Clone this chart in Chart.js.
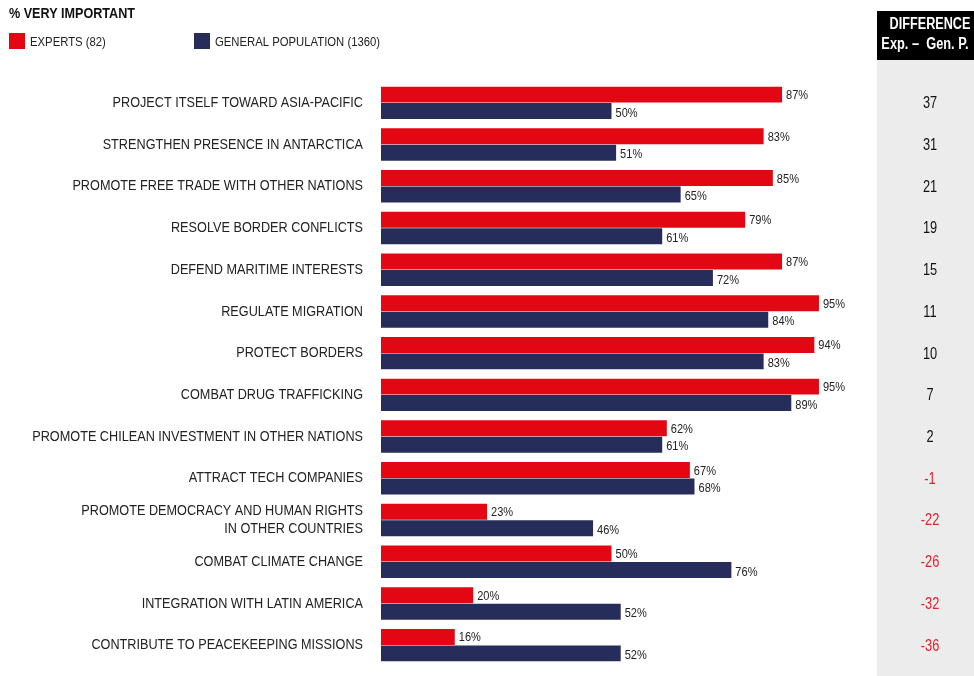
<!DOCTYPE html>
<html>
<head>
<meta charset="utf-8">
<script src="https://cdn.jsdelivr.net/npm/chart.js@4"></script>
<style>
  html, body { margin: 0; padding: 0; background: #fff; }
  #wrap { position: relative; width: 974px; height: 676px; }
</style>
</head>
<body>
<div id="wrap"><canvas id="chart" width="974" height="676"></canvas></div>
<script>
// categories + values
const categories = [
    "PROJECT ITSELF TOWARD ASIA-PACIFIC",
    "STRENGTHEN PRESENCE IN ANTARCTICA",
    "PROMOTE FREE TRADE WITH OTHER NATIONS",
    "RESOLVE BORDER CONFLICTS",
    "DEFEND MARITIME INTERESTS",
    "REGULATE MIGRATION",
    "PROTECT BORDERS",
    "COMBAT DRUG TRAFFICKING",
    "PROMOTE CHILEAN INVESTMENT IN OTHER NATIONS",
    "ATTRACT TECH COMPANIES",
    ["PROMOTE DEMOCRACY AND HUMAN RIGHTS", "IN OTHER COUNTRIES"],
    "COMBAT CLIMATE CHANGE",
    "INTEGRATION WITH LATIN AMERICA",
    "CONTRIBUTE TO PEACEKEEPING MISSIONS"
];
const experts = [87, 83, 85, 79, 87, 95, 94, 95, 62, 67, 23, 50, 20, 16];
const generalPop = [50, 51, 65, 61, 72, 84, 83, 89, 61, 68, 46, 76, 52, 52];
const difference = [37, 31, 21, 19, 15, 11, 10, 7, 2, -1, -22, -26, -32, -36];

const RED = "#e30613";
const NAVY = "#272d5b";
const FONT = "'Liberation Sans', Arial, sans-serif";

// no hay Arial Narrow: se comprime el texto a mano
function narrowText(ctx, text, x, y, align, sx) {
    ctx.save();
    ctx.translate(x, y);
    ctx.scale(sx, 1);
    ctx.textAlign = align;
    ctx.fillText(text, 0, 0);
    ctx.restore();
}

const extrasPlugin = {
    id: "extras",
    beforeDraw(chart) {
        const ctx = chart.ctx;
        ctx.save();
        ctx.textBaseline = "middle";
        // columna gris + cabecera negra
        ctx.fillStyle = "#ececec";
        ctx.fillRect(877, 60, 97, 616);
        ctx.fillStyle = "#000";
        ctx.fillRect(877, 11, 97, 49);
        ctx.fillStyle = "#fff";
        ctx.font = "bold 16px " + FONT;
        narrowText(ctx, "DIFFERENCE", 930, 25, "center", 0.79);
        narrowText(ctx, "Exp. \u2013  Gen. P.", 925, 45, "center", 0.8);

        // titulo
        ctx.fillStyle = "#111";
        ctx.font = "bold 14px " + FONT;
        narrowText(ctx, "% VERY IMPORTANT", 9, 14, "left", 0.9);

        // leyenda
        ctx.font = "13px " + FONT;
        ctx.fillStyle = RED;
        ctx.fillRect(9, 33, 16, 16);
        ctx.fillStyle = "#222";
        narrowText(ctx, chart.data.datasets[0].label, 30, 42, "left", 0.87);
        ctx.fillStyle = NAVY;
        ctx.fillRect(194, 33, 16, 16);
        ctx.fillStyle = "#222";
        narrowText(ctx, chart.data.datasets[1].label, 215, 42, "left", 0.87);

        // etiquetas de categoria
        const yScale = chart.scales.y;
        ctx.font = "15px " + FONT;
        ctx.fillStyle = "#222";
        chart.data.labels.forEach((lab, j) => {
            const yc = yScale.getPixelForValue(j);
            if (Array.isArray(lab)) {
                narrowText(ctx, lab[0], 363, yc - 9, "right", 0.845);
                narrowText(ctx, lab[1], 363, yc + 9, "right", 0.845);
            } else {
                narrowText(ctx, lab, 363, yc, "right", 0.845);
            }
        });
        ctx.restore();
    },
    afterDatasetsDraw(chart) {
        const ctx = chart.ctx;
        ctx.save();
        ctx.font = "13px " + FONT;
        ctx.textBaseline = "middle";
        ctx.fillStyle = "#222";
        chart.data.datasets.forEach((ds, i) => {
            chart.getDatasetMeta(i).data.forEach((bar, j) => {
                narrowText(ctx, ds.data[j] + "%", bar.x + 4, bar.y + 1 + i, "left", 0.85);
            });
        });
        // diferencias
        const yScale = chart.scales.y;
        ctx.font = "16px " + FONT;
        difference.forEach((d, j) => {
            ctx.fillStyle = d < 0 ? "#e3202e" : "#111";
            narrowText(ctx, String(d), 930, yScale.getPixelForValue(j) + 1, "center", 0.8);
        });
        ctx.restore();
    }
};

new Chart(document.getElementById("chart"), {
    type: "bar",
    data: {
        labels: categories,
        datasets: [
            { label: "EXPERTS (82)", data: experts, backgroundColor: RED },
            { label: "GENERAL POPULATION (1360)", data: generalPop, backgroundColor: NAVY }
        ]
    },
    options: {
        indexAxis: "y",
        responsive: false,
        animation: false,
        layout: { padding: { top: 82, bottom: 10, left: 0, right: 132 } },
        datasets: { bar: { categoryPercentage: 0.79, barPercentage: 0.97 } },
        plugins: {
            legend: { display: false },
            tooltip: { enabled: false }
        },
        scales: {
            x: {
                min: 0,
                max: 100,
                display: false,
                grid: { display: false }
            },
            y: {
                grid: { display: false },
                border: { display: false },
                afterFit: s => { s.width = 381; },
                ticks: { display: false }
            }
        }
    },
    plugins: [extrasPlugin]
});
</script>
</body>
</html>
